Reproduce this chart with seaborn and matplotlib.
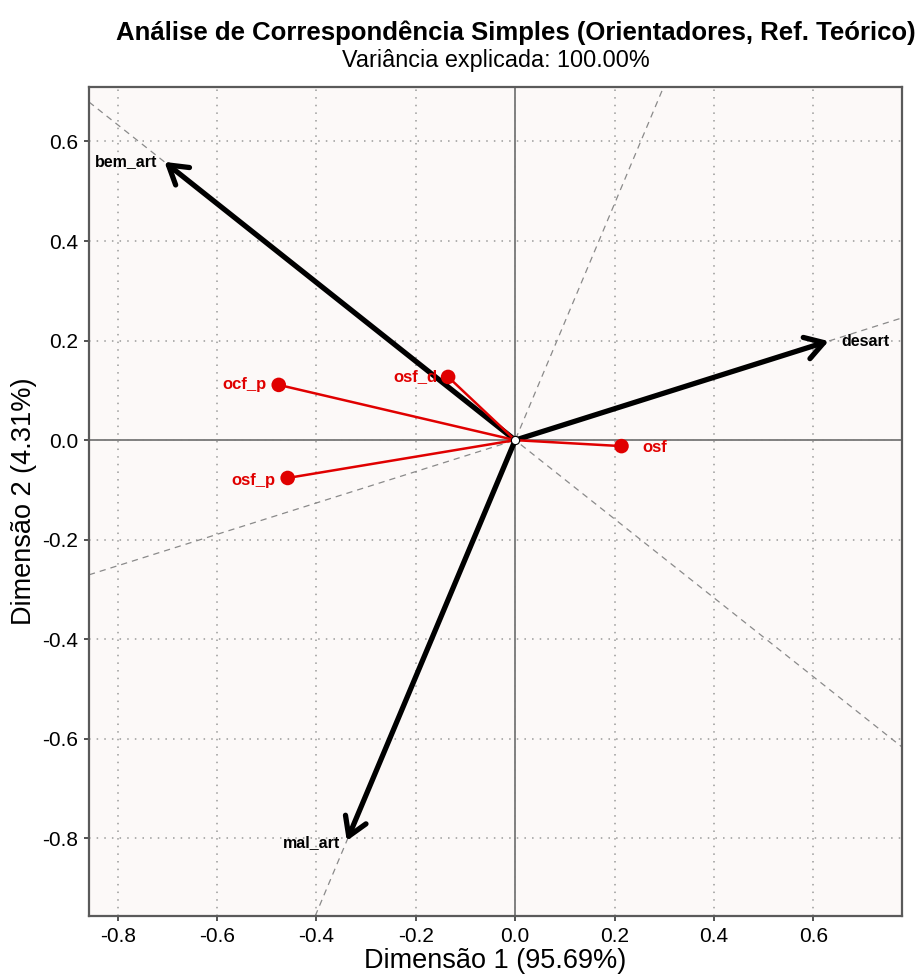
import numpy as np
import pandas as pd
import matplotlib.pyplot as plt
import seaborn as sns

# COORDENADAS
COL_LABELS = ["bem_art", "desart", "mal_art"]
COL_DIM1   = [-0.706, 0.631, -0.339]
COL_DIM2   = [0.559, 0.199, -0.805]

ROW_LABELS = ["ocf_p", "osf_d", "osf", "osf_p"]
ROW_DIM1   = [-0.476, -0.135, 0.214, -0.458]
ROW_DIM2   = [0.111, 0.127, -0.012, -0.076]

X_TICKS = [-0.8, -0.6, -0.4, -0.2, 0.0, 0.2, 0.4, 0.6]
Y_TICKS = [-0.8, -0.6, -0.4, -0.2, 0.0, 0.2, 0.4, 0.6]

TITLE    = "Análise de Correspondência Simples (Orientadores, Ref. Teórico)"
SUBTITLE = "Variância explicada: 100.00%"
XLABEL   = "Dimensão 1 (95.69%)"
YLABEL   = "Dimensão 2 (4.31%)"

# deslocamento dos rótulos (pontos) e alinhamento
COL_OFFSETS = {"bem_art": (-5, 0, "right"), "desart": (9, 0, "left"), "mal_art": (-5, -1, "right")}
ROW_OFFSETS = {"ocf_p": (-9, 0, "right"), "osf_d": (-8, 0, "right"),
               "osf": (15, -1, "left"), "osf_p": (-9, -2, "right")}

cols = pd.DataFrame({"label": COL_LABELS, "dim1": COL_DIM1, "dim2": COL_DIM2})
rows = pd.DataFrame({"label": ROW_LABELS, "dim1": ROW_DIM1, "dim2": ROW_DIM2})

sns.set_style("white")
plt.rcParams["font.family"] = ["Liberation Sans", "DejaVu Sans"]
plt.rcParams["text.color"] = "black"
plt.rcParams["axes.labelcolor"] = "black"

fig = plt.figure(figsize=(9.21, 9.8), dpi=100)
ax = fig.add_axes([0.0966, 0.0653, 0.8824, 0.8457])
ax.set_facecolor("#FCF9F8")

ax.set_xlim(-0.858, 0.778)
ax.set_ylim(-0.956, 0.709)
ax.set_xticks(X_TICKS)
ax.set_yticks(Y_TICKS)
ax.set_xticklabels([f"{t:.1f}" for t in X_TICKS])
ax.set_yticklabels([f"{t:.1f}" for t in Y_TICKS])
ax.grid(True, color="#9a9a9a", linestyle=(0, (1, 4)), linewidth=1.1)
ax.set_axisbelow(True)

# eixos de origem
ax.axhline(0, color="#808080", lw=1.4, zorder=1)
ax.axvline(0, color="#808080", lw=1.4, zorder=1)

# linhas de direção tracejadas
for _, r in cols.iterrows():
    ax.axline((0, 0), (r.dim1, r.dim2), color="#8a8a8a", lw=0.9,
              linestyle=(0, (5, 4)), zorder=2)

# setas das colunas
for _, r in cols.iterrows():
    ax.annotate("", xy=(r.dim1, r.dim2), xytext=(0, 0),
                arrowprops=dict(arrowstyle="->, head_length=0.65, head_width=0.4",
                                color="black", lw=3.8, mutation_scale=20,
                                shrinkA=0, shrinkB=0),
                zorder=3)

# segmentos das linhas
for _, r in rows.iterrows():
    ax.plot([0, r.dim1], [0, r.dim2], color="#e00000", lw=1.8, zorder=4)

sns.scatterplot(data=rows, x="dim1", y="dim2", ax=ax, color="#e00000", s=110,
                edgecolor="none", zorder=5, legend=False)
ax.scatter([0], [0], s=35, color="white", edgecolor="black", linewidth=0.8, zorder=6)

for _, r in cols.iterrows():
    dx, dy, ha = COL_OFFSETS[r.label]
    ax.annotate(r.label, (r.dim1, r.dim2), xytext=(dx, dy), textcoords="offset points",
                ha=ha, va="center", fontsize=11.5, fontweight="bold", color="black", zorder=7)

for _, r in rows.iterrows():
    dx, dy, ha = ROW_OFFSETS[r.label]
    ax.annotate(r.label, (r.dim1, r.dim2), xytext=(dx, dy), textcoords="offset points",
                ha=ha, va="center", fontsize=12, fontweight="bold", color="#e00000", zorder=7)

for s in ax.spines.values():
    s.set_color("#5a5a5a")
    s.set_linewidth(1.6)

ax.tick_params(axis="both", labelsize=15, length=3.6, width=1.2, pad=4, color="#333333",
               left=True, bottom=True, labelcolor="black")
ax.set_xlabel(XLABEL, fontsize=19.5, labelpad=2)
ax.set_ylabel(YLABEL, fontsize=19.5, labelpad=4)

fig.text(0.560, 0.967, TITLE, ha="center", va="center", fontsize=18.5, fontweight="bold")
fig.text(0.538, 0.938, SUBTITLE, ha="center", va="center", fontsize=16.8)

fig.savefig("out.png", dpi=100, facecolor="white")
